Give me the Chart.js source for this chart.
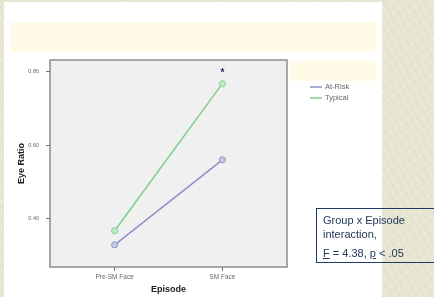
<!DOCTYPE html>
<html>
<head>
<meta charset="utf-8">
<script src="https://cdn.jsdelivr.net/npm/chart.js@4"></script>
<style>
  html, body { margin: 0; padding: 0; }
  body {
    width: 434px; height: 297px; overflow: hidden; position: relative;
    background-color: #e6e4d1;
    background-image:
      repeating-linear-gradient(60deg, rgba(255,255,255,0.25) 0 1px, transparent 1px 7px),
      repeating-linear-gradient(-40deg, rgba(255,255,255,0.2) 0 1px, transparent 1px 9px);
    font-family: "Liberation Sans", Arial, sans-serif;
  }
  #panel { position: absolute; left: 4px; top: 2px; width: 378px; height: 295px; background: #fff; }
  .band { position: absolute; background: #fffbe6; }
  #band1 { left: 11px; top: 22px; width: 365px; height: 30px; }
  #band2 { left: 290px; top: 61px; width: 86px; height: 20px; }
  #myChart { position: absolute; left: 0; top: 0; }
  #note {
    position: absolute; left: 316px; top: 208px; width: 130px; height: 55px;
    border: 1px solid #1f3a60; box-sizing: border-box;
    color: #23395b; font-size: 11px; line-height: 14px; padding: 4px 0 0 6px;
  }
  #note u { text-decoration: underline; }
</style>
</head>
<body>
<div id="panel"></div>
<div class="band" id="band1"></div>
<div class="band" id="band2"></div>
<canvas id="myChart" width="434" height="297"></canvas>
<div id="note">Group x Episode<br>interaction,<div style="margin-top:5px"><u>F</u> = 4.38, <u>p</u> &lt; .05</div></div>
<script>
var episodes = ['Pre-SM Face', 'SM Face'];
var atRisk = [0.33, 0.56];
var typical = [0.368, 0.766];
var yTicks = [0.40, 0.60, 0.80];
var seriesNames = ['At-Risk', 'Typical'];

function toPoints(vals) {
  var pts = [];
  for (var i = 0; i < vals.length; i++) {
    pts.push({x: i, y: vals[i]});
  }
  return pts;
}

// grey plot box with frame
var frame = {
  id: 'frame',
  beforeDraw: function (chart) {
    var a = chart.chartArea, ctx = chart.ctx;
    ctx.save();
    ctx.fillStyle = '#f0f0f0';
    ctx.fillRect(a.left, a.top, a.right - a.left, a.bottom - a.top);
    ctx.strokeStyle = '#8c8c8c';
    ctx.lineWidth = 1.5;
    ctx.strokeRect(a.left, a.top, a.right - a.left, a.bottom - a.top);
    ctx.restore();
  }
};

// legend at right and the significance star
var extras = {
  id: 'extras',
  afterDraw: function (chart) {
    var ctx = chart.ctx;
    ctx.save();
    var ds = chart.data.datasets;
    for (var i = 0; i < ds.length; i++) {
      var y = 87 + i * 11;
      ctx.strokeStyle = ds[i].borderColor;
      ctx.lineWidth = 1.5;
      ctx.beginPath();
      ctx.moveTo(310, y);
      ctx.lineTo(322, y);
      ctx.stroke();
      ctx.fillStyle = '#666';
      ctx.font = '7.5px "Liberation Sans", Arial';
      ctx.textBaseline = 'middle';
      ctx.fillText(ds[i].label, 325, y);
    }
    var xs = chart.scales.x, ys = chart.scales.y;
    ctx.fillStyle = '#1f2a55';
    ctx.font = 'bold 10px "Liberation Sans", Arial';
    ctx.textAlign = 'center';
    ctx.textBaseline = 'middle';
    ctx.fillText('*', xs.getPixelForValue(1), ys.getPixelForValue(typical[1]) - 10);
    ctx.restore();
  }
};

var ctx = document.getElementById('myChart').getContext('2d');
window.myLine = new Chart(ctx, {
  type: 'line',
  data: {
    datasets: [{
      label: seriesNames[0],
      data: toPoints(atRisk),
      borderColor: '#8c90c8',
      backgroundColor: '#c9cbe6',
      pointBackgroundColor: '#c9cbe6',
      pointBorderColor: '#8c90c8',
      borderWidth: 1.5,
      pointRadius: 3,
      pointBorderWidth: 1
    }, {
      label: seriesNames[1],
      data: toPoints(typical),
      borderColor: '#7fcf8c',
      backgroundColor: '#c4ebc9',
      pointBackgroundColor: '#c4ebc9',
      pointBorderColor: '#7fcf8c',
      borderWidth: 1.5,
      pointRadius: 3,
      pointBorderWidth: 1
    }]
  },
  options: {
    responsive: false,
    animation: false,
    layout: { padding: { top: 60, right: 147, left: 0, bottom: 0 } },
    plugins: { legend: { display: false }, tooltip: { enabled: false } },
    scales: {
      x: {
        type: 'linear',
        min: -0.6,
        max: 1.6,
        afterBuildTicks: function (scale) {
          scale.ticks = episodes.map(function (e, i) { return {value: i}; });
        },
        afterFit: function (scale) { scale.height = 30; },
        ticks: {
          callback: function (v) { return episodes[v]; },
          font: { size: 6.5, family: '"Liberation Sans", Arial' },
          color: '#666',
          padding: 2,
          maxRotation: 0
        },
        grid: { drawOnChartArea: false, tickLength: 4, tickColor: '#777' },
        border: { display: false },
        title: {
          display: true,
          text: 'Episode',
          color: '#222',
          font: { size: 9, weight: 'bold', family: '"Liberation Sans", Arial' },
          padding: { top: 0, bottom: 2 }
        }
      },
      y: {
        min: 0.27,
        max: 0.83,
        afterBuildTicks: function (scale) {
          scale.ticks = yTicks.map(function (v) { return {value: v}; });
        },
        afterFit: function (scale) { scale.width = 50; },
        ticks: {
          callback: function (v) { return v.toFixed(2); },
          font: { size: 5.5, family: '"Liberation Sans", Arial' },
          color: '#666',
          padding: 2
        },
        grid: {
          drawOnChartArea: false,
          tickLength: 9,
          tickColor: '#777',
          tickBorderDash: [4, 5],
          tickBorderDashOffset: 4
        },
        border: { display: false },
        title: {
          display: true,
          text: 'Eye Ratio',
          color: '#222',
          font: { size: 9, weight: 'bold', family: '"Liberation Sans", Arial' },
          padding: { top: 16, bottom: 0 }
        }
      }
    }
  },
  plugins: [frame, extras]
});
</script>
</body>
</html>
